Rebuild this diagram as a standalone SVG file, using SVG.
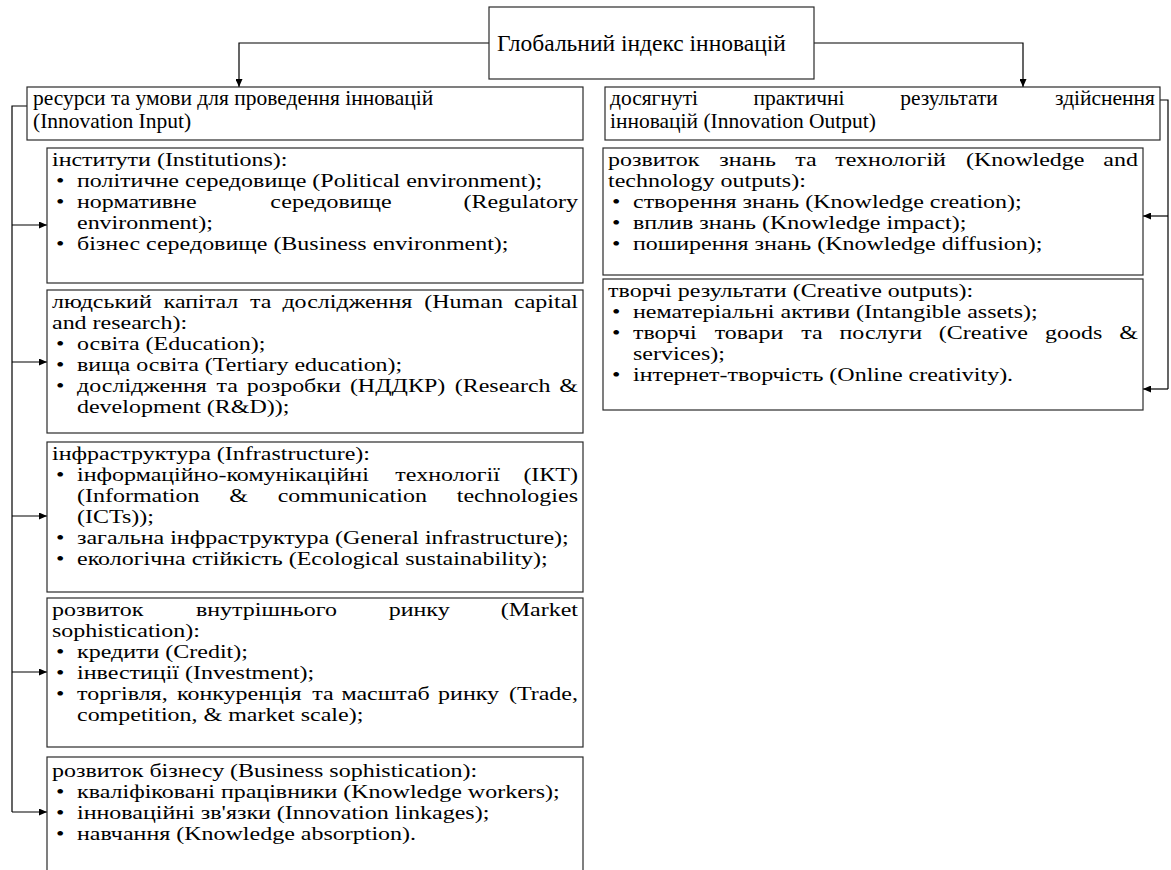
<svg xmlns="http://www.w3.org/2000/svg" width="1171" height="870" viewBox="0 0 1171 870">
<style>
.box{fill:#fff;stroke:#2a2a2a;stroke-width:1.2}
.t{font-family:"Liberation Serif","Times New Roman",serif;font-size:24px;fill:#000}
.h{font-size:21.5px}
.m{text-anchor:middle}
.e{text-anchor:end}
.c{fill:none;stroke:#000;stroke-width:1.2}
</style>
<defs>
<marker id="ah" viewBox="0 0 8 7" refX="8" refY="3.5" markerWidth="8" markerHeight="7" markerUnits="userSpaceOnUse" orient="auto"><path d="M0,0 L8,3.5 L0,7 z" fill="#000"/></marker>
</defs>
<rect width="1171" height="870" fill="#fff"/>
<g id="connectors">
<path class="c" d="M489,43 H239 V87" marker-end="url(#ah)"/>
<path class="c" d="M814,43 H1023 V87" marker-end="url(#ah)"/>
<path class="c" d="M27,106 H12 V812"/>
<path class="c" d="M12,225 H47" marker-end="url(#ah)"/>
<path class="c" d="M12,362 H47" marker-end="url(#ah)"/>
<path class="c" d="M12,516 H47" marker-end="url(#ah)"/>
<path class="c" d="M12,672 H47" marker-end="url(#ah)"/>
<path class="c" d="M12,812 H47" marker-end="url(#ah)"/>
<path class="c" d="M1160,100 H1168 V389"/>
<path class="c" d="M1168,216 H1143" marker-end="url(#ah)"/>
<path class="c" d="M1168,389 H1143" marker-end="url(#ah)"/>
</g>
<g id="n-global">
<rect class="box" x="489" y="7" width="325" height="72"/>
<text class="t" x="497" y="51" style="font-size:23.5px">Глобальний індекс інновацій</text>
</g>
<g id="n-input">
<rect class="box" x="27" y="87" width="556" height="53"/>
<text class="t h" x="33" y="105" transform="matrix(1 0 0 0.95 0 5.25)">ресурси та умови для проведення інновацій</text>
<text class="t h" x="33" y="128" transform="matrix(1 0 0 0.95 0 6.4)">(Innovation Input)</text>
</g>
<g id="n-output">
<rect class="box" x="605" y="87" width="555" height="53"/>
<text class="t h" y="105" transform="matrix(1 0 0 0.95 0 5.25)"><tspan x="610">досягнуті</tspan><tspan class="m" x="799">практичні</tspan><tspan class="m" x="949">результати</tspan><tspan class="e" x="1155">здійснення</tspan></text>
<text class="t h" x="610" y="128" transform="matrix(1 0 0 0.95 0 6.4)">інновацій (Innovation Output)</text>
</g>
<g id="n-institutions">
<rect class="box" x="47" y="148" width="536" height="135"/>
<text class="t" y="166" transform="matrix(1 0 0 0.79 0 34.86)"><tspan x="52">інститути (Institutions):</tspan></text>
<text class="t" y="187" transform="matrix(1 0 0 0.79 0 39.27)"><tspan x="56">•</tspan><tspan x="77">політичне середовище (Political environment);</tspan></text>
<text class="t" y="208" transform="matrix(1 0 0 0.79 0 43.68)"><tspan x="56">•</tspan><tspan x="77">нормативне</tspan><tspan class="m" x="331">середовище</tspan><tspan class="e" x="578">(Regulatory</tspan></text>
<text class="t" y="229" transform="matrix(1 0 0 0.79 0 48.09)"><tspan x="77">environment);</tspan></text>
<text class="t" y="250" transform="matrix(1 0 0 0.79 0 52.5)"><tspan x="56">•</tspan><tspan x="77">бізнес середовище (Business environment);</tspan></text>
</g>
<g id="n-human">
<rect class="box" x="47" y="290" width="536" height="143"/>
<text class="t" y="308" transform="matrix(1 0 0 0.79 0 64.68)"><tspan x="52">людський</tspan><tspan x="163.6">капітал</tspan><tspan x="250.1">та</tspan><tspan x="282.4">дослідження</tspan><tspan x="424.3">(Human</tspan><tspan class="e" x="578">capital</tspan></text>
<text class="t" y="329" transform="matrix(1 0 0 0.79 0 69.09)"><tspan x="52">and research):</tspan></text>
<text class="t" y="350" transform="matrix(1 0 0 0.79 0 73.5)"><tspan x="56">•</tspan><tspan x="77">освіта (Education);</tspan></text>
<text class="t" y="371" transform="matrix(1 0 0 0.79 0 77.91)"><tspan x="56">•</tspan><tspan x="77">вища освіта (Tertiary education);</tspan></text>
<text class="t" y="392" transform="matrix(1 0 0 0.79 0 82.32)"><tspan x="56">•</tspan><tspan x="77">дослідження</tspan><tspan x="216.6">та</tspan><tspan x="246.7">розробки</tspan><tspan x="349.9">(НДДКР)</tspan><tspan x="454.7">(Research</tspan><tspan class="e" x="578">&amp;</tspan></text>
<text class="t" y="413" transform="matrix(1 0 0 0.79 0 86.73)"><tspan x="77">development (R&amp;D));</tspan></text>
</g>
<g id="n-infra">
<rect class="box" x="47" y="442" width="536" height="150"/>
<text class="t" y="460" transform="matrix(1 0 0 0.79 0 96.6)"><tspan x="52">інфраструктура (Infrastructure):</tspan></text>
<text class="t" y="481" transform="matrix(1 0 0 0.79 0 101.01)"><tspan x="56">•</tspan><tspan x="77">інформаційно-комунікаційні</tspan><tspan class="m" x="447.6">технології</tspan><tspan class="e" x="578">(ІКТ)</tspan></text>
<text class="t" y="502" transform="matrix(1 0 0 0.79 0 105.42)"><tspan x="77">(Information</tspan><tspan class="m" x="238.6">&amp;</tspan><tspan class="m" x="352.3">communication</tspan><tspan class="e" x="578">technologies</tspan></text>
<text class="t" y="523" transform="matrix(1 0 0 0.79 0 109.83)"><tspan x="77">(ICTs));</tspan></text>
<text class="t" y="544" transform="matrix(1 0 0 0.79 0 114.24)"><tspan x="56">•</tspan><tspan x="77">загальна інфраструктура (General infrastructure);</tspan></text>
<text class="t" y="565" transform="matrix(1 0 0 0.79 0 118.65)"><tspan x="56">•</tspan><tspan x="77">екологічна стійкість (Ecological sustainability);</tspan></text>
</g>
<g id="n-market">
<rect class="box" x="47" y="598" width="536" height="149"/>
<text class="t" y="616" transform="matrix(1 0 0 0.79 0 129.36)"><tspan x="52">розвиток</tspan><tspan class="m" x="266.4">внутрішнього</tspan><tspan class="m" x="419.2">ринку</tspan><tspan class="e" x="578">(Market</tspan></text>
<text class="t" y="637" transform="matrix(1 0 0 0.79 0 133.77)"><tspan x="52">sophistication):</tspan></text>
<text class="t" y="658" transform="matrix(1 0 0 0.79 0 138.18)"><tspan x="56">•</tspan><tspan x="77">кредити (Credit);</tspan></text>
<text class="t" y="679" transform="matrix(1 0 0 0.79 0 142.59)"><tspan x="56">•</tspan><tspan x="77">інвестиції (Investment);</tspan></text>
<text class="t" y="700" transform="matrix(1 0 0 0.79 0 147)"><tspan x="56">•</tspan><tspan x="77">торгівля,</tspan><tspan x="177">конкуренція</tspan><tspan x="312.2">та</tspan><tspan x="341.4">масштаб</tspan><tspan x="438.1">ринку</tspan><tspan class="e" x="578">(Trade,</tspan></text>
<text class="t" y="721" transform="matrix(1 0 0 0.79 0 151.41)"><tspan x="77">competition, &amp; market scale);</tspan></text>
</g>
<g id="n-business">
<rect class="box" x="47" y="757" width="536" height="130"/>
<text class="t" y="777" transform="matrix(1 0 0 0.79 0 163.17)"><tspan x="52">розвиток бізнесу (Business sophistication):</tspan></text>
<text class="t" y="798" transform="matrix(1 0 0 0.79 0 167.58)"><tspan x="56">•</tspan><tspan x="77">кваліфіковані працівники (Knowledge workers);</tspan></text>
<text class="t" y="819" transform="matrix(1 0 0 0.79 0 171.99)"><tspan x="56">•</tspan><tspan x="77">інноваційні зв'язки (Innovation linkages);</tspan></text>
<text class="t" y="840" transform="matrix(1 0 0 0.79 0 176.4)"><tspan x="56">•</tspan><tspan x="77">навчання (Knowledge absorption).</tspan></text>
</g>
<g id="n-knowledge">
<rect class="box" x="603" y="148" width="540" height="127"/>
<text class="t" y="166" transform="matrix(1 0 0 0.79 0 34.86)"><tspan x="608">розвиток</tspan><tspan x="719.3">знань</tspan><tspan x="795.2">та</tspan><tspan x="835.3">технологій</tspan><tspan x="965.9">(Knowledge</tspan><tspan class="e" x="1138">and</tspan></text>
<text class="t" y="187" transform="matrix(1 0 0 0.79 0 39.27)"><tspan x="608">technology outputs):</tspan></text>
<text class="t" y="208" transform="matrix(1 0 0 0.79 0 43.68)"><tspan x="612">•</tspan><tspan x="633">створення знань (Knowledge creation);</tspan></text>
<text class="t" y="229" transform="matrix(1 0 0 0.79 0 48.09)"><tspan x="612">•</tspan><tspan x="633">вплив знань (Knowledge impact);</tspan></text>
<text class="t" y="250" transform="matrix(1 0 0 0.79 0 52.5)"><tspan x="612">•</tspan><tspan x="633">поширення знань (Knowledge diffusion);</tspan></text>
</g>
<g id="n-creative">
<rect class="box" x="603" y="279" width="540" height="131"/>
<text class="t" y="297" transform="matrix(1 0 0 0.79 0 62.37)"><tspan x="608">творчі результати (Creative outputs):</tspan></text>
<text class="t" y="318" transform="matrix(1 0 0 0.79 0 66.78)"><tspan x="612">•</tspan><tspan x="633">нематеріальні активи (Intangible assets);</tspan></text>
<text class="t" y="339" transform="matrix(1 0 0 0.79 0 71.19)"><tspan x="612">•</tspan><tspan x="633">творчі</tspan><tspan x="714.7">товари</tspan><tspan x="801.2">та</tspan><tspan x="839.5">послуги</tspan><tspan x="938.8">(Creative</tspan><tspan x="1045">goods</tspan><tspan class="e" x="1138">&amp;</tspan></text>
<text class="t" y="360" transform="matrix(1 0 0 0.79 0 75.6)"><tspan x="633">services);</tspan></text>
<text class="t" y="381" transform="matrix(1 0 0 0.79 0 80.01)"><tspan x="612">•</tspan><tspan x="633">інтернет-творчість (Online creativity).</tspan></text>
</g>
</svg>
